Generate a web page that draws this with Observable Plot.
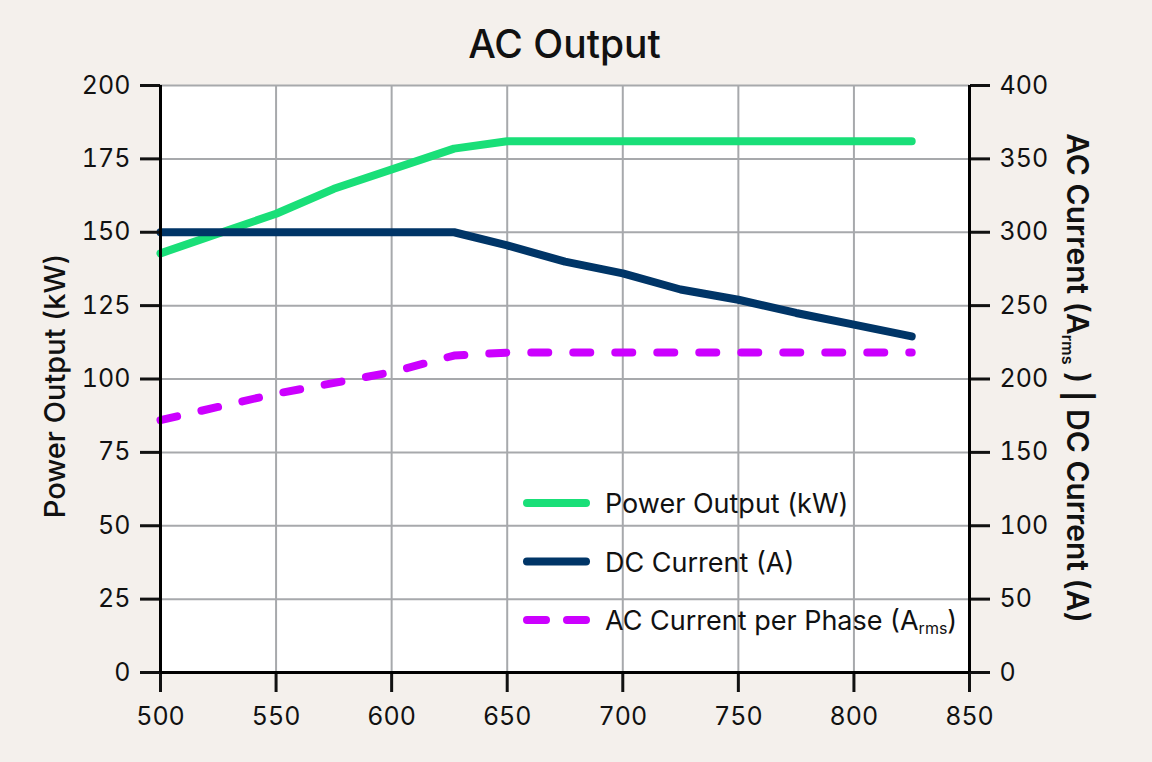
<!DOCTYPE html>
<html>
<head>
<meta charset="utf-8">
<script src="https://cdn.jsdelivr.net/npm/d3@7"></script>
<script src="https://cdn.jsdelivr.net/npm/@observablehq/plot@0.6"></script>
<style>
  html, body { margin: 0; padding: 0; background: #f4f0ec; }
  #chart { width: 1152px; height: 762px; }
</style>
</head>
<body>
<div id="chart"></div>
<script>
// Inverter AC output vs DC input voltage (V)
const powerVoltage = [500, 550, 575, 627, 650, 825];
const powerKW      = [142.8, 156.3, 164.8, 178.5, 181, 181];

const dcVoltage = [500, 627, 650, 675, 700, 725, 750, 775, 800, 825];
const dcCurrent = [300, 300, 291, 280, 272, 261, 254, 245, 237, 229];

const acVoltage = [500, 550, 600, 627, 650, 825];
const acCurrent = [172, 190, 204.6, 216, 218, 218];

const xTicks     = [500, 550, 600, 650, 700, 750, 800, 850];
const powerTicks = [0, 25, 50, 75, 100, 125, 150, 175, 200];
const currentTicks = [0, 50, 100, 150, 200, 250, 300, 350, 400];

const seriesNames = ["Power Output (kW)", "DC Current (A)", "AC Current per Phase (A"];
const colors = { power: "#19df78", dc: "#003567", ac: "#cc00ff" };

// current axis (right) is twice the power axis (left)
const currentToPower = 200 / 400;

const powerRows = powerVoltage.map((v, i) => ({ v, y: powerKW[i] }));
const dcRows = dcVoltage.map((v, i) => ({ v, y: dcCurrent[i] * currentToPower }));
const acRows = acVoltage.map((v, i) => ({ v, y: acCurrent[i] * currentToPower }));

const font = "Inter, 'Noto Sans', sans-serif";
const grid = { stroke: "#a7a9ac", strokeOpacity: 1, strokeWidth: 2 };
const axisStyle = { tickSize: 20, tickPadding: 10, strokeWidth: 3, label: null, fontSize: 25 };

const chart = Plot.plot({
  width: 1152,
  height: 762,
  marginLeft: 160,
  marginRight: 183,
  marginTop: 85,
  marginBottom: 90,
  style: { background: "transparent", fontFamily: font, color: "#111", overflow: "visible" },
  x: { domain: [500, 850] },
  y: { domain: [0, 200] },
  marks: [
    Plot.frame({ fill: "white", stroke: null }),
    Plot.gridX(xTicks, grid),
    Plot.gridY(powerTicks, grid),
    Plot.line(acRows, { x: "v", y: "y", stroke: colors.ac, strokeWidth: 8, strokeDasharray: "17,25", strokeLinecap: "round", strokeLinejoin: "round" }),
    Plot.line(powerRows, { x: "v", y: "y", stroke: colors.power, strokeWidth: 8, strokeLinecap: "round", strokeLinejoin: "round" }),
    Plot.line(dcRows, { x: "v", y: "y", stroke: colors.dc, strokeWidth: 8, strokeLinecap: "round", strokeLinejoin: "round" }),
    Plot.axisX({ ...axisStyle, tickPadding: 15, ticks: xTicks, tickFormat: d => d }),
    Plot.axisY({ ...axisStyle, anchor: "left", ticks: powerTicks, tickFormat: d => d }),
    Plot.axisY({ ...axisStyle, anchor: "right", ticks: powerTicks, tickFormat: (d, i) => currentTicks[i] }),
    Plot.ruleX([500, 850], { stroke: "black", strokeWidth: 3 }),
    Plot.ruleY([0], { stroke: "black", strokeWidth: 3 })
  ]
});

document.getElementById("chart").append(chart);

const svg = d3.select(chart);

// Title
svg.append("text")
  .attr("x", (160 + 969) / 2).attr("y", 58)
  .attr("text-anchor", "middle")
  .attr("font-family", font).attr("font-size", 39).attr("font-weight", 500)
  .attr("fill", "#111")
  .text("AC Output");

// Left axis label
svg.append("text")
  .attr("transform", "translate(65,386) rotate(-90)")
  .attr("text-anchor", "middle")
  .attr("font-family", font).attr("font-size", 29).attr("font-weight", 500)
  .attr("fill", "#111")
  .text("Power Output (kW)");

// Right axis label with subscript
const rl = svg.append("text")
  .attr("transform", "translate(1067,378) rotate(90)")
  .attr("text-anchor", "middle")
  .attr("font-family", font).attr("font-size", 30).attr("font-weight", 600)
  .attr("fill", "#111");
rl.append("tspan").text("AC Current (A");
rl.append("tspan").attr("font-size", 16).attr("dy", 5).text("rms");
rl.append("tspan").attr("dy", -5).text(" ) | DC Current (A)");

// Legend
const legendItems = [
  { name: seriesNames[0], color: colors.power, dash: null, sub: null },
  { name: seriesNames[1], color: colors.dc, dash: null, sub: null },
  { name: seriesNames[2], color: colors.ac, dash: "19,21", sub: "rms" }
];
const lg = svg.append("g")
  .attr("font-family", font).attr("font-size", 27).attr("fill", "#111")
  .attr("text-anchor", "start");
legendItems.forEach((d, i) => {
  const y = 503 + i * 58.5;
  lg.append("line")
    .attr("x1", 527).attr("x2", 586).attr("y1", y).attr("y2", y)
    .attr("stroke", d.color).attr("stroke-width", 8).attr("stroke-linecap", "round")
    .attr("stroke-dasharray", d.dash);
  const t = lg.append("text").attr("x", 605).attr("y", y + 10);
  t.append("tspan").text(d.name);
  if (d.sub) {
    t.append("tspan").attr("font-size", 16).attr("dy", 4).text(d.sub);
    t.append("tspan").attr("dy", -4).text(")");
  }
});
</script>
</body>
</html>
